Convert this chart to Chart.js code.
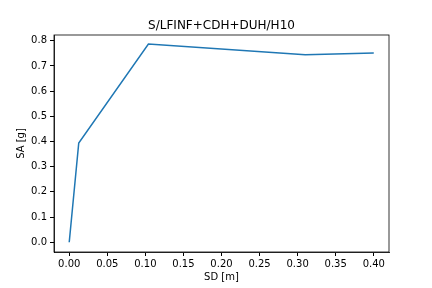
<!DOCTYPE html>
<html>
<head>
<meta charset="utf-8">
<script src="https://cdn.jsdelivr.net/npm/chart.js@4"></script>
<style>
  html, body { margin: 0; padding: 0; background: #fff; }
  #wrap { width: 432px; height: 288px; }
</style>
</head>
<body>
<div id="wrap"><canvas id="chart" width="432" height="288"></canvas></div>
<script>
const sdValues = [0.0, 0.0125, 0.104, 0.310, 0.400];
const saValues = [0.0, 0.394, 0.787, 0.744, 0.751];
const xTicks = [0.0, 0.05, 0.10, 0.15, 0.20, 0.25, 0.30, 0.35, 0.40];
const yTicks = [0.0, 0.1, 0.2, 0.3, 0.4, 0.5, 0.6, 0.7, 0.8];
const chartTitle = 'S/LFINF+CDH+DUH/H10';

Chart.defaults.font.family = '"DejaVu Sans", sans-serif';
Chart.defaults.font.size = 10;
Chart.defaults.color = '#000';

// matplotlib style box + title centred over the axes
const frame = {
    id: 'frame',
    afterDraw(chart) {
        const { ctx, chartArea: a } = chart;
        ctx.save();
        ctx.strokeStyle = '#000';
        ctx.lineWidth = 0.8;
        ctx.strokeRect(a.left, a.top, a.right - a.left, a.bottom - a.top);
        ctx.fillStyle = '#000';
        ctx.font = '12px "DejaVu Sans", sans-serif';
        ctx.textAlign = 'center';
        ctx.textBaseline = 'alphabetic';
        ctx.fillText(chartTitle, (a.left + a.right) / 2, a.top - 6);
        ctx.restore();
    },
};

new Chart(document.getElementById('chart'), {
    type: 'line',
    data: {
        datasets: [{
            data: sdValues.map((x, i) => ({ x, y: saValues[i] })),
            borderColor: '#1f77b4',
            borderWidth: 1.5,
            pointRadius: 0,
            tension: 0,
            fill: false,
        }],
    },
    options: {
        responsive: false,
        animation: false,
        layout: { padding: { left: 0, right: 43, top: 35, bottom: 0 } },
        plugins: {
            legend: { display: false },
            tooltip: { enabled: false },
            title: { display: false },
        },
        scales: {
            x: {
                type: 'linear',
                min: -0.02,
                max: 0.42,
                afterBuildTicks: s => { s.ticks = xTicks.map(v => ({ value: v })); },
                afterFit: s => { s.height = 36; },
                ticks: { callback: v => v.toFixed(2), padding: 2, maxRotation: 0, autoSkip: false },
                grid: { drawOnChartArea: false, drawTicks: true, tickLength: 4, color: '#000' },
                border: { color: '#000', width: 0.8 },
                title: { display: true, text: 'SD [m]', padding: { top: 0, bottom: 5 } },
            },
            y: {
                type: 'linear',
                min: -0.0386,
                max: 0.8227,
                afterBuildTicks: s => { s.ticks = yTicks.map(v => ({ value: v })); },
                afterFit: s => { s.width = 54; },
                ticks: { callback: v => v.toFixed(1), padding: 3, autoSkip: false },
                grid: { drawOnChartArea: false, drawTicks: true, tickLength: 4, color: '#000' },
                border: { color: '#000', width: 0.8 },
                title: { display: true, text: 'SA [g]', padding: { top: 15, bottom: 0 } },
            },
        },
    },
    plugins: [frame],
});
</script>
</body>
</html>
